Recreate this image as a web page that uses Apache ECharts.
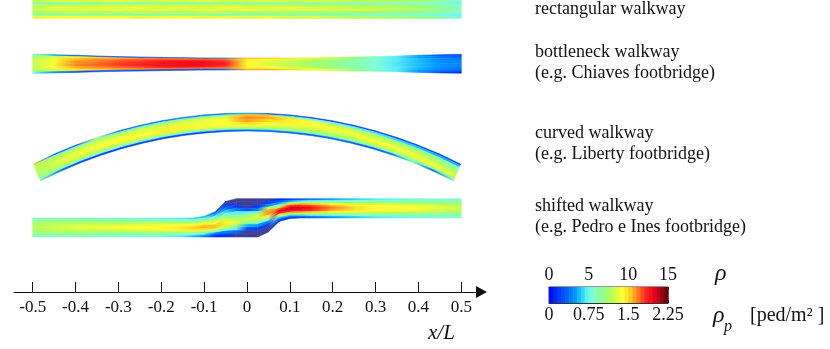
<!DOCTYPE html>
<html lang="en">
<head>
<meta charset="UTF-8">
<title>Walkway density maps</title>
<script src="https://cdn.jsdelivr.net/npm/echarts@6/dist/echarts.min.js"></script>
<style>
    html, body { margin: 0; padding: 0; background: #fff; }
    #chart { width: 830px; height: 349px; }
</style>
</head>
<body>
<div id="chart"></div>
<script>
var serif = '"Liberation Serif", serif';

// x/L ticks and the colour bar scales
var xTicks = [-0.5, -0.4, -0.3, -0.2, -0.1, 0, 0.1, 0.2, 0.3, 0.4, 0.5];
var rhoPTicks = [0, 0.75, 1.5, 2.25];
var barLevels = [0, 0.5, 1, 1.5, 2, 2.5, 3, 3.5, 4, 4.5, 5, 5.5, 6, 6.5, 7, 7.5, 8, 8.5, 9, 9.5, 10, 10.5, 11, 11.5, 12, 12.5, 13, 13.5, 14, 14.5];
var jetColors = ['#0010ff', '#0030ff', '#0050ff', '#0070ff', '#0098ff', '#20c8ff', '#60f0f8', '#80ffd8', '#88ffa8', '#98ff80', '#b0ff60',
    '#d8ff40', '#ffff30', '#ffe020', '#ffa020', '#ff6020', '#ff2020', '#f00818', '#c00010', '#800010', '#480010'];

var stationX = [-0.5, -0.45, -0.4, -0.35, -0.3, -0.25, -0.2, -0.15, -0.1, -0.05, 0, 0.05, 0.1, 0.15, 0.2, 0.25, 0.3, 0.35, 0.4, 0.45, 0.5];

// where the row boundaries sit across a walkway, top edge = 0, bottom edge = 1
var evenRows8 = [0, 0.125, 0.25, 0.375, 0.5, 0.625, 0.75, 0.875, 1];
var evenRows12 = [0, 0.083, 0.167, 0.25, 0.333, 0.417, 0.5, 0.583, 0.667, 0.75, 0.833, 0.917, 1];
var thinEdgeRows = [0, 0.07, 0.19, 0.34, 0.5, 0.66, 0.81, 0.93, 1];

// rectangular walkway: one inner array per station, top edge to bottom edge
var rectTop = [0.6813, 0.6813, 0.6813, 0.6813, 0.6813, 0.6813, 0.6813, 0.6813, 0.6813, 0.6813, 0.6813, 0.6813, 0.6813, 0.6813, 0.6813, 0.6813, 0.6813, 0.6813, 0.6813, 0.6813, 0.6813];
var rectBottom = [0.6382, 0.6382, 0.6382, 0.6382, 0.6382, 0.6382, 0.6382, 0.6382, 0.6382, 0.6382, 0.6382, 0.6382, 0.6382, 0.6382, 0.6382, 0.6382, 0.6382, 0.6382, 0.6382, 0.6382, 0.6382];
var rectRho = [
    [7.6, 6.2, 7.4, 7.8, 7.8, 7.2, 6.2, 8.4],
    [8.2, 6.2, 7.8, 8.4, 8.2, 7.6, 6.2, 9.0],
    [8.4, 6.0, 7.8, 8.2, 8.6, 7.8, 6.0, 9.0],
    [8.2, 6.4, 7.8, 8.6, 8.2, 7.6, 6.2, 8.8],
    [8.6, 6.2, 8.0, 8.2, 8.8, 7.4, 6.4, 9.0],
    [8.0, 6.0, 8.0, 8.8, 8.2, 7.8, 6.2, 8.6],
    [8.4, 6.4, 7.8, 8.2, 8.6, 7.6, 6.0, 8.8],
    [8.2, 6.2, 8.0, 8.6, 8.2, 7.4, 6.2, 9.0],
    [8.6, 6.0, 7.8, 8.2, 8.6, 7.8, 6.4, 8.6],
    [8.0, 6.4, 8.0, 8.8, 8.2, 7.6, 6.0, 8.8],
    [8.2, 6.2, 7.8, 8.2, 8.8, 7.2, 6.2, 8.4],
    [8.4, 6.2, 7.6, 8.4, 8.2, 7.4, 6.0, 8.8],
    [8.0, 6.0, 7.8, 8.6, 8.2, 7.2, 6.2, 8.0],
    [8.2, 6.0, 7.4, 8.0, 8.6, 7.0, 5.8, 8.4],
    [8.0, 6.2, 7.6, 8.2, 8.0, 7.2, 6.0, 7.8],
    [7.8, 5.8, 7.2, 7.8, 8.2, 6.8, 5.8, 7.6],
    [7.8, 5.8, 7.0, 8.0, 7.8, 7.0, 5.6, 7.4],
    [7.4, 5.6, 7.0, 7.6, 7.6, 6.6, 5.6, 7.0],
    [7.2, 5.6, 6.6, 7.2, 7.4, 6.4, 5.4, 6.6],
    [6.6, 5.2, 6.0, 6.6, 6.6, 6.0, 5.0, 6.0],
    [5.4, 4.8, 5.2, 5.6, 5.6, 5.2, 4.8, 5.2]
];

// bottleneck walkway
var neckTop = [0.5553, 0.5537, 0.5523, 0.5506, 0.5492, 0.5483, 0.5474, 0.5467, 0.5460, 0.5460, 0.5460, 0.5460, 0.5460, 0.5467, 0.5474, 0.5483, 0.5492, 0.5506, 0.5523, 0.5537, 0.5545];
var neckBottom = [0.5098, 0.5112, 0.5124, 0.5138, 0.5149, 0.5156, 0.5166, 0.5172, 0.5180, 0.5180, 0.5180, 0.5180, 0.5180, 0.5172, 0.5166, 0.5156, 0.5149, 0.5138, 0.5124, 0.5112, 0.5105];
var neckRho = [
    [5.5, 7, 7.6, 7.8, 7.8, 7.6, 7, 5],
    [3, 8, 8.6, 9, 9.2, 8.8, 8, 3],
    [1.5, 9.4, 10.2, 10.6, 10.8, 10.2, 9.4, 1.5],
    [1.5, 10, 10.8, 11, 11.2, 10.8, 10, 1.5],
    [1.5, 10.4, 11.2, 11.6, 11.7, 11.2, 10.4, 1.5],
    [1.5, 10.8, 11.6, 11.9, 12, 11.6, 10.8, 1.5],
    [1.2, 11, 12, 12.4, 12.4, 12.1, 11, 1.2],
    [1.2, 11, 12.2, 12.6, 12.6, 12.3, 11, 1.2],
    [1.2, 11.2, 12.4, 12.6, 12.6, 12.4, 11, 1.2],
    [2, 10.8, 11.8, 12, 12, 11.8, 10.8, 2],
    [10.4, 9.4, 9.2, 9, 9, 9.2, 9.4, 10.4],
    [10.4, 9, 8.6, 8.4, 8.4, 8.6, 9, 10.4],
    [9.8, 8.4, 8, 7.8, 7.8, 8, 8.4, 9.8],
    [9.2, 8, 7.4, 7.2, 7.2, 7.4, 8, 9],
    [8.4, 7.2, 6.8, 6.6, 6.6, 6.8, 7.2, 8.4],
    [7, 6.4, 6, 6, 6, 6, 6.4, 7],
    [5.6, 5.4, 5.2, 5.2, 5.2, 5.2, 5.4, 5.6],
    [4.4, 4.4, 4.4, 4.3, 4.3, 4.4, 4.4, 4.4],
    [3, 3.2, 3.6, 3.6, 3.6, 3.6, 3.2, 3],
    [1.5, 2.4, 2.8, 2.9, 2.9, 2.8, 2.4, 1.4],
    [1, 1.8, 2.4, 2.6, 2.6, 2.4, 1.8, 0.6]
];

// curved walkway: stations sit on the arc, the cross sections lean with it
var curveX = [-0.49, -0.441, -0.392, -0.343, -0.294, -0.245, -0.196, -0.147, -0.098, -0.049, 0, 0.049, 0.098, 0.147, 0.196, 0.245, 0.294, 0.343, 0.392, 0.441, 0.49];
var curveLean = [-0.0082, -0.0074, -0.0066, -0.0057, -0.0049, -0.0041, -0.0033, -0.0025, -0.0016, -0.0008, 0, 0.0008, 0.0016, 0.0025, 0.0033, 0.0041, 0.0049, 0.0057, 0.0066, 0.0074, 0.0082];
var curveTop = [0.2986, 0.3224, 0.3430, 0.3609, 0.3762, 0.3889, 0.3993, 0.4074, 0.4132, 0.4165, 0.4176, 0.4165, 0.4132, 0.4074, 0.3993, 0.3889, 0.3762, 0.3609, 0.3430, 0.3224, 0.2986];
var curveBottom = [0.2590, 0.2824, 0.3028, 0.3203, 0.3354, 0.3479, 0.3581, 0.3658, 0.3712, 0.3745, 0.3756, 0.3745, 0.3712, 0.3658, 0.3581, 0.3479, 0.3354, 0.3203, 0.3028, 0.2824, 0.2590];
var curveRho = [
    [10, 8, 7.6, 7.5, 7.2, 7, 6.6, 5.8],
    [2, 6, 7.8, 8.2, 8.2, 7.8, 6, 2],
    [1.5, 5.8, 8, 8.6, 8.6, 8, 5.8, 1.2],
    [8, 6, 8, 8.8, 8.6, 7.8, 5.6, 1],
    [2, 6, 8, 8.6, 9, 8, 5.6, 1],
    [2, 6, 8.2, 8.4, 9, 8.2, 5.6, 1.2],
    [2, 5.8, 8, 8.4, 9.4, 8.2, 5.6, 1],
    [2, 6, 8.2, 8.6, 9.2, 8.2, 5.8, 1.2],
    [2, 6, 8.4, 8.6, 8.8, 8.4, 6, 1.2],
    [2, 6.4, 8.6, 9, 9, 8.6, 6.2, 1.5],
    [3.5, 10.2, 10.8, 10.6, 9.8, 8.8, 6.6, 2.5],
    [1.5, 10, 10.4, 9.8, 9, 8.2, 6.2, 2],
    [1, 6.4, 9.4, 9.4, 8.6, 7.8, 6, 2],
    [1, 5.6, 8.8, 9, 8.4, 7.6, 6, 1.8],
    [0.8, 5, 8.2, 8.8, 8.4, 7.6, 6, 2],
    [1, 4.6, 7.8, 8.6, 8.4, 7.8, 6, 1.8],
    [1, 4.4, 7.4, 8.2, 8.8, 8, 6, 1.6],
    [1, 4, 7, 8, 8.8, 8.2, 6, 2.4],
    [1, 3.8, 6.8, 7.8, 8.6, 8.4, 6, 6],
    [1.2, 3.4, 6.4, 7.4, 8.2, 8.8, 6.2, 2],
    [1.2, 3.4, 5.8, 6.8, 7.6, 8.2, 7, 5.6]
];

// shifted walkway: -1 marks the unused part of the deck
var shiftX = [-0.5, -0.4, -0.3, -0.2, -0.15, -0.125, -0.1, -0.075, -0.05, -0.025, 0, 0.025, 0.05, 0.075, 0.1, 0.125, 0.15, 0.2, 0.25, 0.3, 0.4, 0.5];
var shiftTop = [0.1727, 0.1727, 0.1727, 0.1727, 0.1727, 0.1727, 0.1766, 0.1867, 0.2112, 0.2177, 0.2177, 0.2177, 0.2177, 0.2177, 0.2177, 0.2177, 0.2177, 0.2177, 0.2177, 0.2177, 0.2177, 0.2177];
var shiftBottom = [0.1283, 0.1283, 0.1283, 0.1283, 0.1283, 0.1283, 0.1283, 0.1283, 0.1283, 0.1283, 0.1283, 0.1283, 0.1400, 0.1645, 0.1715, 0.1727, 0.1727, 0.1727, 0.1727, 0.1727, 0.1727, 0.1727];
var shiftRho = [
    [5.6, 6.2, 6.8, 7.2, 7.5, 7.6, 7.6, 7.5, 7.2, 6.8, 6.2, 5.6],
    [5.8, 6.4, 7, 7.6, 8, 8.4, 8.4, 8, 7.6, 7, 6.4, 5.8],
    [5.2, 6, 6.8, 7.6, 8.2, 8.8, 8.8, 8.2, 7.6, 6.8, 6, 5.2],
    [4.8, 5.8, 6.8, 7.8, 8.6, 9, 9.2, 8.8, 8, 7, 6, 5],
    [4.4, 5.6, 6.6, 7.8, 8.8, 9.2, 9.6, 9.2, 8.2, 6.8, 5.6, 4.4],
    [4, 5.4, 6.6, 7.8, 8.8, 9.6, 10, 9.6, 8.4, 6.6, 5.2, 3.6],
    [3.6, 5, 6.6, 8, 9.2, 10, 10.4, 9.8, 8.4, 6.4, 4.4, 2.8],
    [2, 3.4, 5, 6.4, 7.8, 9, 10, 10.2, 8.2, 5.4, 2.5, 0.8],
    [-1, 1, 2.5, 4, 5.5, 7, 8.4, 9.2, 8.4, 5.6, 2.5, 0.8],
    [-1, -1, 1, 2.5, 4.4, 6, 7.6, 8.4, 7.2, 4.6, 2, -1],
    [-1, -1, -1, 1.5, 4.5, 7, 8, 6.4, 3.5, 1.5, -1, -1],
    [-1, -1, 0.8, 2.5, 6, 8.2, 8, 6, 3, 1, -1, -1],
    [-1, 1, 3, 8, 10.6, 10.6, 8.5, 5.5, 2.5, 1, -1, -1],
    [0.5, 1.5, 3, 5, 8, 11.5, 13, 12.5, 9.5, 6, 3, 1],
    [1, 3, 6.5, 10, 12, 13, 13.2, 12.4, 10.5, 7, 3.5, 1],
    [1.5, 4, 7.5, 10.4, 12, 13, 13, 12.2, 10.5, 7.5, 4, 1.5],
    [2, 4.5, 7.5, 10, 11.6, 12.4, 12.6, 11.8, 10, 7.5, 4.5, 2],
    [3, 5, 7, 9, 10.2, 10.8, 10.8, 10.2, 9, 7, 5, 3],
    [3.8, 5.2, 6.8, 8.2, 9.2, 9.8, 9.8, 9.4, 8.4, 7, 5.4, 3.8],
    [4.4, 5.6, 6.8, 8, 8.8, 9.2, 9.2, 9, 8.2, 7, 5.6, 4.4],
    [5, 5.8, 6.6, 7.6, 8.4, 9, 9, 8.6, 7.8, 6.8, 5.8, 5],
    [5.4, 5.8, 6.4, 7, 7.6, 8, 8, 7.6, 7, 6.4, 5.8, 5.4]
];

var labelItems = [
    { text: 'rectangular walkway', y: 0.5 },
    { text: 'bottleneck walkway', y: 43.5 },
    { text: '(e.g. Chiaves footbridge)', y: 64.5 },
    { text: 'curved walkway', y: 124.5 },
    { text: '(e.g. Liberty footbridge)', y: 145.5 },
    { text: 'shifted walkway', y: 197.5 },
    { text: '(e.g. Pedro e Ines footbridge)', y: 218.5 }
];

function rhoColor(v) {
    if (v < 0) return '#3f3f9a';
    return echarts.color.lerp(Math.min(v / 15, 1), jetColors);
}

// flat list of cells for one walkway: [station, row, rho here, rho at next station]
function cellData(field) {
    var out = [];
    for (var i = 0; i < field.length - 1; i++) {
        for (var j = 0; j < field[i].length; j++) {
            out.push([i, j, field[i][j], field[i + 1][j]]);
        }
    }
    return out;
}

function walkwaySeries(xs, top, bottom, lean, field, rowEdges) {
    return {
        type: 'custom',
        coordinateSystem: 'cartesian2d',
        xAxisIndex: 0,
        yAxisIndex: 0,
        silent: true,
        clip: true,
        animation: false,
        data: cellData(field),
        renderItem: function (params, api) {
            var i = api.value(0), j = api.value(1);
            function corner(st, r) {
                var t = rowEdges[r];
                var shift = lean ? lean[st] * (1 - 2 * t) : 0;
                return api.coord([xs[st] + shift, top[st] + (bottom[st] - top[st]) * t]);
            }
            var fill = new echarts.graphic.LinearGradient(0, 0, 1, 0, [
                { offset: 0, color: rhoColor(api.value(2)) },
                { offset: 1, color: rhoColor(api.value(3)) }
            ]);
            return {
                type: 'polygon',
                shape: { points: [corner(i, j), corner(i + 1, j), corner(i + 1, j + 1), corner(i, j + 1)] },
                style: { fill: fill, stroke: fill, lineWidth: 0.6 }
            };
        }
    };
}

var series = [
    walkwaySeries(stationX, rectTop, rectBottom, null, rectRho, evenRows8),
    walkwaySeries(stationX, neckTop, neckBottom, null, neckRho, thinEdgeRows),
    walkwaySeries(curveX, curveTop, curveBottom, curveLean, curveRho, thinEdgeRows),
    walkwaySeries(shiftX, shiftTop, shiftBottom, null, shiftRho, evenRows12),
    {
        // colour bar, one block per level
        type: 'custom',
        xAxisIndex: 1,
        yAxisIndex: 1,
        silent: true,
        animation: false,
        z: 1,
        data: barLevels.map(function (v) { return [v]; }),
        renderItem: function (params, api) {
            var v = api.value(0);
            var a = api.coord([v, 1]), b = api.coord([v + 0.5, 0]);
            return {
                type: 'rect',
                shape: { x: a[0], y: a[1], width: b[0] - a[0] + 0.5, height: b[1] - a[1] },
                style: { fill: rhoColor(v) }
            };
        }
    }
];

var graphicItems = labelItems.map(function (d) {
    return { type: 'text', left: 535, top: d.y, style: { text: d.text, font: '18px ' + serif, fill: '#111' } };
});
graphicItems.push(
    { type: 'text', left: 428, top: 323, style: { text: 'x/L', font: 'italic 21px ' + serif, fill: '#111' } },
    { type: 'text', left: 715, top: 262, style: { text: 'ρ', font: 'italic 24px ' + serif, fill: '#111' } },
    { type: 'text', left: 713, top: 304, style: { text: 'ρ', font: 'italic 24px ' + serif, fill: '#111' } },
    { type: 'text', left: 724, top: 319, style: { text: 'p', font: 'italic 16px ' + serif, fill: '#111' } },
    { type: 'text', left: 750, top: 306, style: { text: '[ped/m² ]', font: '20px ' + serif, fill: '#111' } }
);

var chart = echarts.init(document.getElementById('chart'), null, { renderer: 'canvas' });
chart.setOption({
    animation: false,
    backgroundColor: '#fff',
    grid: [
        { left: 14, top: 0, width: 467.5, height: 292 },
        { left: 549, top: 287, width: 119, height: 16, show: true, borderColor: '#333', borderWidth: 1, backgroundColor: 'transparent' }
    ],
    xAxis: [
        {
            gridIndex: 0,
            type: 'value',
            min: -0.5436,
            max: 0.5472,
            position: 'bottom',
            splitLine: { show: false },
            axisLine: { onZero: false, lineStyle: { color: '#111', width: 1 }, symbol: ['none', 'triangle'], symbolSize: [12, 11], symbolOffset: [0, 0] },
            axisTick: { inside: true, length: 10, lineStyle: { color: '#111', width: 1 }, customValues: xTicks },
            axisLabel: { customValues: xTicks, margin: 7, color: '#111', fontFamily: serif, fontSize: 17 }
        },
        {
            gridIndex: 1,
            type: 'value',
            min: 0,
            max: 15,
            interval: 5,
            position: 'top',
            splitLine: { show: false },
            axisLine: { show: true, onZero: false, lineStyle: { color: '#333' } },
            axisTick: { inside: true, length: 3, lineStyle: { color: '#111' } },
            axisLabel: { margin: 3, color: '#111', fontFamily: serif, fontSize: 18, showMinLabel: true, showMaxLabel: true }
        },
        {
            gridIndex: 1,
            type: 'value',
            min: 0,
            max: 2.25,
            interval: 0.75,
            position: 'bottom',
            splitLine: { show: false },
            axisLine: { show: true, onZero: false, lineStyle: { color: '#333' } },
            axisTick: { inside: true, length: 3, lineStyle: { color: '#111' } },
            minorTick: { show: true, splitNumber: 2, length: 2, lineStyle: { color: '#111' } },
            axisLabel: {
                customValues: rhoPTicks,
                margin: 3,
                color: '#111',
                fontFamily: serif,
                fontSize: 18,
                formatter: function (v) { return String(v); }
            }
        }
    ],
    yAxis: [
        { gridIndex: 0, type: 'value', min: 0, max: 0.6813, show: false, splitLine: { show: false } },
        { gridIndex: 1, type: 'value', min: 0, max: 1, show: false, splitLine: { show: false } }
    ],
    graphic: graphicItems,
    series: series
});
</script>
</body>
</html>
